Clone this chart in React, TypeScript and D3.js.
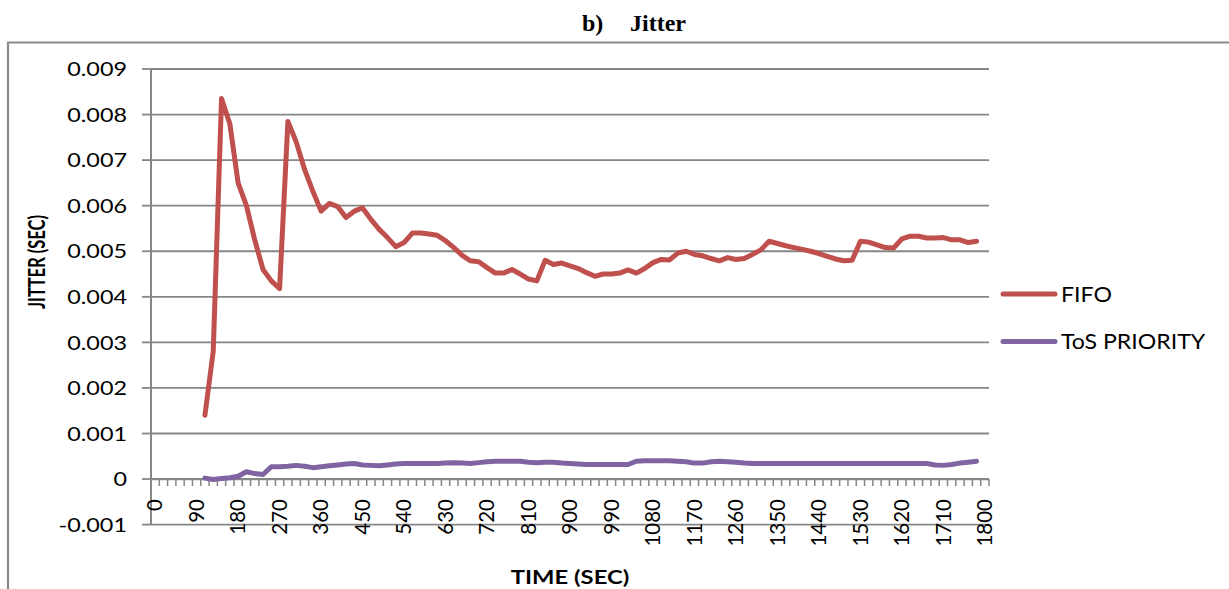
import React from "react";
import * as d3 from "d3";

// Time categories on the horizontal axis (seconds), one every 18 s.
const timeCategories: number[] = d3.range(0, 1801, 18);
const xTickLabels: string[] = [
  "0", "90", "180", "270", "360", "450", "540", "630", "720", "810", "900",
  "990", "1080", "1170", "1260", "1350", "1440", "1530", "1620", "1710", "1800",
];
const yTickValues: number[] = [-0.001, 0, 0.001, 0.002, 0.003, 0.004, 0.005, 0.006, 0.007, 0.008, 0.009];
const yTickLabels: string[] = ["-0.001", "0", "0.001", "0.002", "0.003", "0.004", "0.005", "0.006", "0.007", "0.008", "0.009"];

// Both series start at t = 108 s (category index 6).
const seriesStartIndex = 6;

const fifoJitter: number[] = [
  0.0014, 0.0028, 0.00835, 0.0078, 0.0065, 0.006, 0.00525, 0.0046, 0.00435, 0.00418,
  0.00785, 0.0074, 0.0068, 0.00632, 0.00588, 0.00605, 0.00598, 0.00574, 0.00588, 0.00595,
  0.0057, 0.00548, 0.0053, 0.0051, 0.00519, 0.0054, 0.0054, 0.00538, 0.00535, 0.00523,
  0.00508, 0.00491, 0.00479, 0.00477, 0.00464, 0.00452, 0.00452, 0.0046, 0.0045, 0.00439,
  0.00435, 0.0048, 0.00471, 0.00474, 0.00468, 0.00462, 0.00453, 0.00445, 0.0045, 0.0045,
  0.00452, 0.00459, 0.00452, 0.00462, 0.00475, 0.00482, 0.00481, 0.00496, 0.005, 0.00493,
  0.0049, 0.00484, 0.00479, 0.00486, 0.00482, 0.00484, 0.00493, 0.00503, 0.00522, 0.00517,
  0.00512, 0.00508, 0.00504, 0.005, 0.00495, 0.00489, 0.00483, 0.00479, 0.0048, 0.00522,
  0.0052, 0.00514, 0.00508, 0.00507, 0.00527, 0.00533, 0.00533, 0.00529, 0.00529, 0.0053,
  0.00525, 0.00525, 0.00519, 0.00522,
];

const tosPriorityJitter: number[] = [
  0.00002, -0.00001, 0.00001, 0.00003, 0.00006, 0.00016, 0.00012, 0.0001, 0.00027, 0.00027,
  0.00028, 0.0003, 0.00028, 0.00025, 0.00027, 0.00029, 0.00031, 0.00033, 0.00034, 0.00031,
  0.0003, 0.00029, 0.00031, 0.00033, 0.00034, 0.00034, 0.00034, 0.00034, 0.00034, 0.00035,
  0.00036, 0.00035, 0.00034, 0.00036, 0.00038, 0.00039, 0.00039, 0.00039, 0.00039, 0.00037,
  0.00036, 0.00037, 0.00037, 0.00035, 0.00034, 0.00033, 0.00032, 0.00032, 0.00032, 0.00032,
  0.00032, 0.00032, 0.00039, 0.0004, 0.0004, 0.0004, 0.0004, 0.00039, 0.00038, 0.00035,
  0.00035, 0.00038, 0.00039, 0.00038, 0.00037, 0.00035, 0.00034, 0.00034, 0.00034, 0.00034,
  0.00034, 0.00034, 0.00034, 0.00034, 0.00034, 0.00034, 0.00034, 0.00034, 0.00034, 0.00034,
  0.00034, 0.00034, 0.00034, 0.00034, 0.00034, 0.00034, 0.00034, 0.00034, 0.00031, 0.0003,
  0.00032, 0.00035, 0.00037, 0.00039,
];

const seriesNames = ["FIFO", "ToS PRIORITY"];
const seriesColors = ["#C0504D", "#8064A2"];

const WIDTH = 1229;
const HEIGHT = 589;
const PLOT_LEFT = 151;
const PLOT_RIGHT = 989;
const PLOT_TOP = 69;
const PLOT_BOTTOM = 524.6;

const GRID = "#868686";
const SANS = "Lato, Carlito, Calibri, 'Open Sans', sans-serif";

export default function App() {
  const x = d3
    .scaleBand<number>()
    .domain(timeCategories)
    .range([PLOT_LEFT, PLOT_RIGHT])
    .paddingInner(0)
    .paddingOuter(0);
  const bw = x.bandwidth();
  const cx = (t: number) => (x(t) as number) + bw / 2;

  const y = d3.scaleLinear().domain([-0.001, 0.009]).range([PLOT_BOTTOM, PLOT_TOP]);

  const line = d3
    .line<number>()
    .x((_, i) => cx(timeCategories[seriesStartIndex + i]))
    .y((v) => y(v))
    .curve(d3.curveLinear);

  const series = [fifoJitter, tosPriorityJitter];

  // band boundaries for the small category tick marks
  const boundaries = timeCategories.map((t) => x(t) as number).concat([PLOT_RIGHT]);

  return (
    <svg
      width={WIDTH}
      height={HEIGHT}
      style={{ position: "absolute", left: 0, top: 0, background: "#fff" }}
    >
      {/* outer frame */}
      <path d={`M8,${HEIGHT + 10} V42.5 H${WIDTH + 10}`} fill="none" stroke="#8a8a8a" strokeWidth={2.2} />

      {/* title */}
      <g fontFamily="'Liberation Serif', 'Times New Roman', serif" fontWeight="bold" fontSize={24} fill="#000">
        <text x={582} y={31}>b)</text>
        <text x={630} y={31}>Jitter</text>
      </g>

      {/* horizontal gridlines and y ticks */}
      {yTickValues.map((v) => (
        <g key={`g${v}`}>
          <line x1={PLOT_LEFT} x2={PLOT_RIGHT} y1={y(v)} y2={y(v)} stroke={GRID} strokeWidth={1.8} />
          <line x1={PLOT_LEFT - 9} x2={PLOT_LEFT} y1={y(v)} y2={y(v)} stroke={GRID} strokeWidth={1.8} />
        </g>
      ))}

      {/* y axis line */}
      <line x1={PLOT_LEFT} x2={PLOT_LEFT} y1={PLOT_TOP} y2={PLOT_BOTTOM} stroke={GRID} strokeWidth={2} />

      {/* x axis (at zero) with category ticks */}
      <line x1={PLOT_LEFT} x2={PLOT_RIGHT} y1={y(0)} y2={y(0)} stroke={GRID} strokeWidth={2.2} />
      {boundaries.map((bx, i) => (
        <line key={`t${i}`} x1={bx} x2={bx} y1={y(0)} y2={y(0) + 7} stroke={GRID} strokeWidth={1.5} />
      ))}

      {/* y tick labels */}
      <g fontFamily={SANS} fontSize={20} fill="#000">
        {yTickValues.map((v, i) => (
          <text
            key={`yl${v}`}
            transform={`translate(127,${y(v) + 7.2}) scale(1.17,1)`}
            textAnchor="end"
          >
            {yTickLabels[i]}
          </text>
        ))}
      </g>

      {/* x tick labels, every fifth category */}
      <g fontFamily={SANS} fontSize={20.5} fill="#000">
        {xTickLabels.map((lab) => {
          const t = +lab;
          return (
            <text
              key={`xl${lab}`}
              transform={`translate(${cx(t) + 7.3},499) rotate(-90)`}
              textAnchor="end"
            >
              {lab}
            </text>
          );
        })}
      </g>

      {/* axis titles */}
      <text
        transform={`translate(570,584) scale(1.22,1)`}
        textAnchor="middle"
        fontFamily={SANS}
        fontWeight="bold"
        fontSize={19.5}
        fill="#000"
      >
        TIME (SEC)
      </text>
      <text
        transform={`translate(45,262) scale(1.35,1) rotate(-90)`}
        textAnchor="middle"
        fontFamily={SANS}
        fontWeight="bold"
        fontSize={16.5}
        fill="#000"
      >
        JITTER (SEC)
      </text>

      {/* series lines */}
      {series.map((s, k) => (
        <path
          key={`s${k}`}
          d={line(s) as string}
          fill="none"
          stroke={seriesColors[k]}
          strokeWidth={5}
          strokeLinejoin="round"
          strokeLinecap="round"
        />
      ))}

      {/* legend */}
      {seriesNames.map((name, k) => {
        const ly = 294 + k * 47.5;
        return (
          <g key={`lg${k}`}>
            <line x1={1003} x2={1055} y1={ly} y2={ly} stroke={seriesColors[k]} strokeWidth={5} strokeLinecap="round" />
            <text
              transform={`translate(1061,${ly + 7.5}) scale(1.1,1)`}
              fontFamily={SANS}
              fontSize={21}
              fill="#000"
            >
              {name}
            </text>
          </g>
        );
      })}
    </svg>
  );
}
